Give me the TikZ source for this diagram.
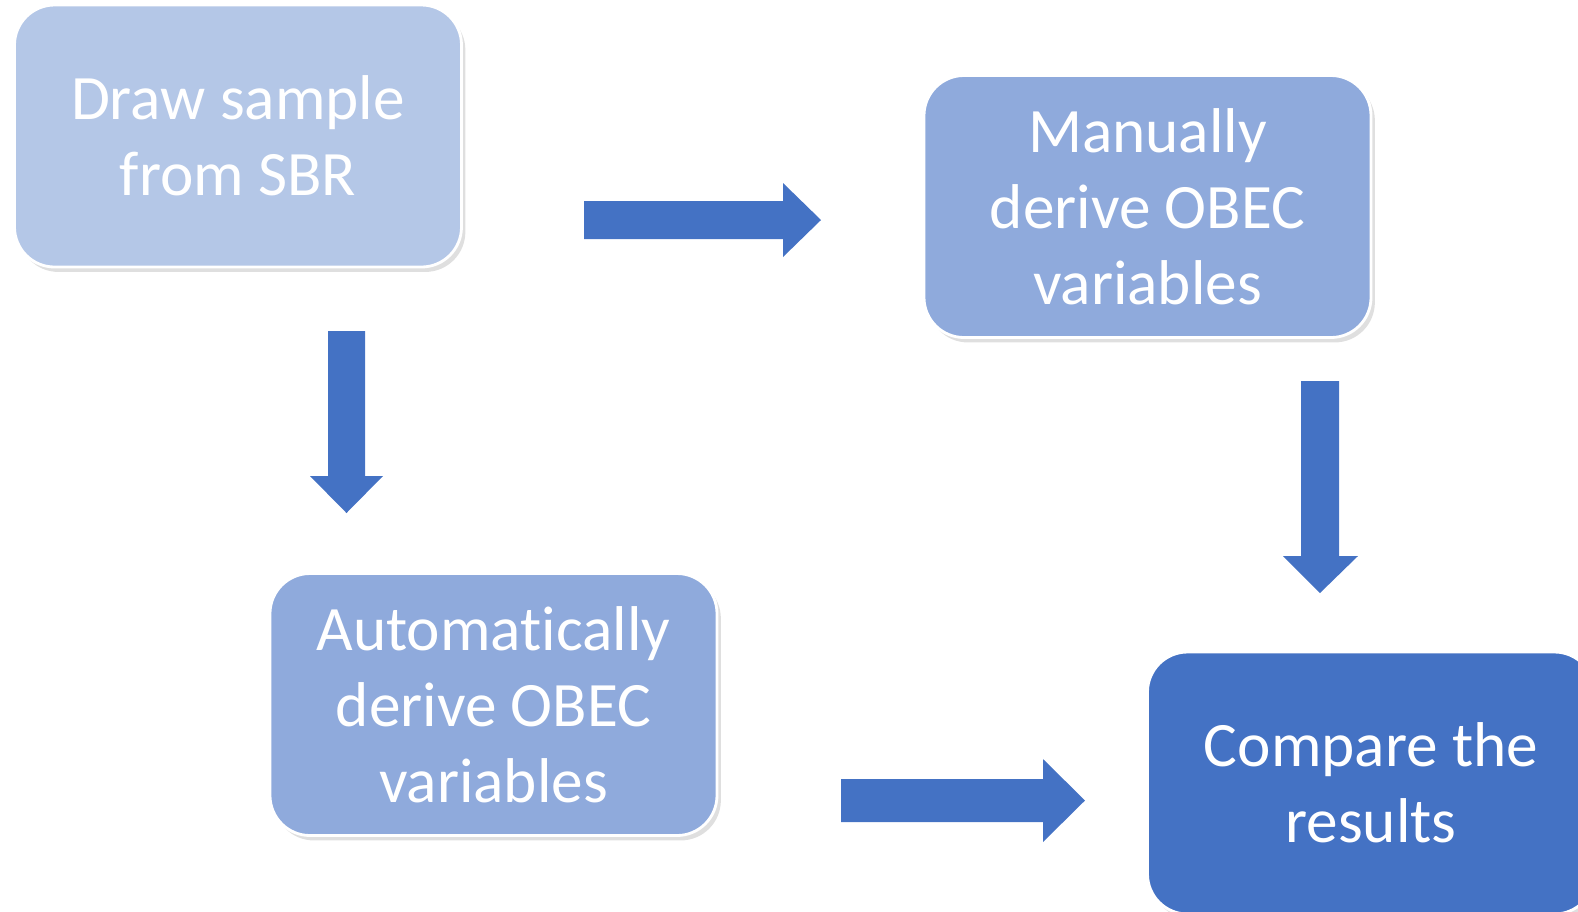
\documentclass[tikz,border=0pt]{standalone}
\usepackage{fontspec}
\setmainfont[Ligatures=NoCommon]{Carlito}
\usepackage{tikz}
\usetikzlibrary{positioning,shadows}

\definecolor{stepA}{HTML}{B4C7E7}
\definecolor{stepB}{HTML}{8FAADC}
\definecolor{stepC}{HTML}{4472C4}

\begin{document}
\begin{tikzpicture}[
                font=\fontsize{18}{21.6}\selectfont,
                box/.style={rectangle, rounded corners=0.4cm, draw=white, line width=0.8pt, text=white, align=center, minimum width=4.47cm, minimum height=2.62cm, drop shadow={opacity=0.25, shadow xshift=1.1pt, shadow yshift=-1.4pt}},
                blk/.style={fill=stepC},
            ]
            % --- page ---
            \useasboundingbox (0,0) rectangle (15.78,-9.11);
            \clip (0,0) rectangle (15.78,-9.11);
            % --- steps ---
            \node[box, fill=stepA] (sample) at (2.38, -1.36) {Draw sample\\from SBR};
            \node[box, fill=stepB] (manual) at (11.475, -2.065) {Manually\\derive OBEC\\variables};
            \node[box, fill=stepB] (auto) at (4.935, -7.045) {Automat\kern0pt ically\\derive OBEC\\variables};
            \node[box, fill=stepC] (compare) at (13.71, -7.83) {Compare the\\results};
            % --- block arrows ---
            \fill[blk] (5.84,-2.01) -- (7.83,-2.01) -- (7.83,-1.83) -- (8.21,-2.20) -- (7.83,-2.57) -- (7.83,-2.39) -- (5.84,-2.39) -- cycle;
            \fill[blk] (8.41,-7.79) -- (10.43,-7.79) -- (10.43,-7.59) -- (10.85,-8.005) -- (10.43,-8.42) -- (10.43,-8.22) -- (8.41,-8.22) -- cycle;
            \fill[blk] (3.28,-3.31) -- (3.65,-3.31) -- (3.65,-4.76) -- (3.83,-4.76) -- (3.465,-5.13) -- (3.10,-4.76) -- (3.28,-4.76) -- cycle;
            \fill[blk] (13.01,-3.81) -- (13.39,-3.81) -- (13.39,-5.56) -- (13.58,-5.56) -- (13.20,-5.93) -- (12.83,-5.56) -- (13.01,-5.56) -- cycle;
        \end{tikzpicture}
\end{document}
